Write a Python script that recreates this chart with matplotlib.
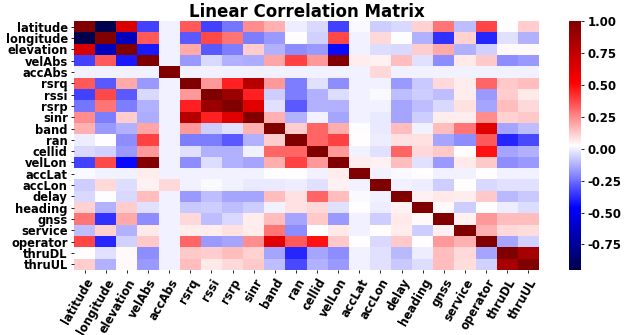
import matplotlib
matplotlib.use("Agg")
import matplotlib.pyplot as plt
import numpy as np

labels = ["latitude", "longitude", "elevation", "velAbs", "accAbs", "rsrq",
          "rssi", "rsrp", "sinr", "band", "ran", "cellid", "velLon", "accLat",
          "accLon", "delay", "heading", "gnss", "service", "operator",
          "thruDL", "thruUL"]

# correlation matrix rows
corr = [
    [1.00, -0.95, 0.66, -0.34, 0.00, 0.34, -0.34, -0.24, 0.24, 0.17, -0.01, -0.05, -0.34, 0.01, -0.07, -0.05, 0.11, 0.29, -0.10, 0.38, 0.03, 0.12],
    [-0.95, 1.00, -0.64, 0.34, 0.00, -0.29, 0.37, 0.29, -0.22, -0.17, 0.025, -0.06, 0.37, 0.00, 0.10, 0.02, -0.12, -0.37, 0.11, -0.39, -0.03, -0.12],
    [0.66, -0.64, 1.00, -0.41, 0.00, 0.19, -0.29, -0.22, 0.12, -0.12, -0.19, -0.17, -0.44, 0.00, -0.04, -0.05, 0.12, 0.19, -0.12, -0.06, 0.04, 0.04],
    [-0.34, 0.34, -0.41, 1.00, 0.00, -0.17, -0.05, -0.12, -0.13, 0.20, 0.39, 0.22, 0.98, 0.06, 0.05, 0.15, -0.03, -0.19, 0.07, 0.13, -0.19, -0.17],
    [0.00, 0.00, 0.00, 0.00, 1.00, 0.00, 0.00, 0.00, 0.00, 0.00, 0.00, 0.00, 0.00, 0.00, 0.10, 0.00, 0.00, 0.00, 0.00, 0.00, 0.00, 0.00],
    [0.34, -0.29, 0.19, -0.17, 0.00, 1.00, 0.22, 0.45, 0.79, 0.22, -0.22, -0.03, -0.19, 0.00, 0.00, -0.17, -0.08, 0.10, 0.06, 0.32, 0.13, 0.15],
    [-0.34, 0.37, -0.29, -0.05, 0.00, 0.22, 1.00, 0.90, 0.45, -0.07, -0.22, -0.12, -0.04, 0.00, 0.01, -0.10, -0.07, -0.10, 0.06, -0.17, 0.12, 0.07],
    [-0.24, 0.29, -0.22, -0.12, 0.00, 0.45, 0.90, 1.00, 0.63, -0.03, -0.29, -0.12, -0.12, 0.00, 0.00, -0.15, -0.10, -0.05, 0.08, -0.15, 0.15, 0.10],
    [0.24, -0.22, 0.12, -0.13, 0.00, 0.79, 0.45, 0.63, 1.00, 0.17, -0.12, 0.00, -0.15, 0.00, -0.02, -0.15, -0.07, 0.06, 0.06, 0.24, 0.11, 0.13],
    [0.17, -0.17, -0.12, 0.20, 0.00, 0.22, -0.07, -0.03, 0.17, 1.00, 0.12, 0.32, 0.18, 0.02, -0.02, 0.15, 0.00, 0.15, 0.29, 0.63, -0.15, -0.10],
    [-0.01, 0.025, -0.19, 0.39, 0.00, -0.22, -0.22, -0.29, -0.12, 0.12, 1.00, 0.32, 0.39, 0.025, -0.01, 0.08, 0.08, -0.15, -0.19, 0.34, -0.39, -0.32],
    [-0.05, -0.06, -0.17, 0.22, 0.00, -0.03, -0.12, -0.12, 0.00, 0.32, 0.32, 1.00, 0.22, 0.00, -0.03, 0.32, 0.10, 0.13, 0.025, 0.48, -0.15, -0.12],
    [-0.34, 0.37, -0.44, 0.98, 0.00, -0.19, -0.04, -0.12, -0.15, 0.18, 0.39, 0.22, 1.00, 0.06, 0.05, 0.15, -0.03, -0.17, 0.07, 0.13, -0.19, -0.17],
    [0.01, 0.00, 0.00, 0.06, 0.00, 0.00, 0.00, 0.00, 0.00, 0.02, 0.025, 0.00, 0.06, 1.00, 0.00, 0.01, 0.03, 0.00, 0.00, 0.025, 0.00, 0.00],
    [-0.07, 0.10, -0.04, 0.05, 0.10, 0.00, 0.01, 0.00, -0.02, -0.02, -0.01, -0.03, 0.05, 0.00, 1.00, 0.00, -0.01, -0.07, 0.025, -0.05, -0.03, -0.03],
    [-0.05, 0.02, -0.05, 0.15, 0.00, -0.17, -0.10, -0.15, -0.15, 0.15, 0.08, 0.32, 0.15, 0.01, 0.00, 1.00, 0.05, 0.07, 0.06, 0.13, -0.11, -0.08],
    [0.11, -0.12, 0.12, -0.03, 0.00, -0.08, -0.07, -0.10, -0.07, 0.00, 0.08, 0.10, -0.03, 0.03, -0.01, 0.05, 1.00, 0.04, -0.07, 0.025, -0.01, -0.04],
    [0.29, -0.37, 0.19, -0.19, 0.00, 0.10, -0.10, -0.05, 0.06, 0.15, -0.15, 0.13, -0.17, 0.00, -0.07, 0.07, 0.04, 1.00, 0.05, 0.22, 0.15, 0.15],
    [-0.10, 0.11, -0.12, 0.07, 0.00, 0.06, 0.06, 0.08, 0.06, 0.29, -0.19, 0.025, 0.07, 0.00, 0.025, 0.06, -0.07, 0.05, 1.00, 0.17, 0.10, 0.09],
    [0.38, -0.39, -0.06, 0.13, 0.00, 0.32, -0.17, -0.15, 0.24, 0.63, 0.34, 0.48, 0.13, 0.025, -0.05, 0.13, 0.025, 0.22, 0.17, 1.00, -0.15, -0.06],
    [0.03, -0.03, 0.04, -0.19, 0.00, 0.13, 0.12, 0.15, 0.11, -0.15, -0.39, -0.15, -0.19, 0.00, -0.03, -0.11, -0.01, 0.15, 0.10, -0.15, 1.00, 0.85],
    [0.12, -0.12, 0.04, -0.17, 0.00, 0.15, 0.07, 0.10, 0.13, -0.10, -0.32, -0.12, -0.17, 0.00, -0.03, -0.08, -0.04, 0.15, 0.09, -0.06, 0.85, 1.00],
]

cbar_ticks = [-0.75, -0.5, -0.25, 0.0, 0.25, 0.5, 0.75, 1.0]

data = np.array(corr)

fig = plt.figure(figsize=(6.25, 3.35), dpi=100)
W, H = 625, 335
ax = fig.add_axes([74 / W, 1 - 270 / H, 465 / W, 249 / H])
cax = fig.add_axes([569 / W, 1 - 270 / H, 12 / W, 249 / H])

mesh = ax.pcolormesh(data, cmap="seismic", vmin=data.min(), vmax=data.max())
ax.set_xlim(0, len(labels))
ax.set_ylim(len(labels), 0)
for s in ax.spines.values():
    s.set_visible(False)

ticks = np.arange(len(labels)) + 0.5
ax.set_xticks(ticks)
ax.set_yticks(ticks)
ax.set_xticklabels(labels, rotation=60, ha="right", rotation_mode="anchor",
                   fontsize=8.3, fontweight="bold")
ax.set_yticklabels(labels, fontsize=8.3, fontweight="bold")
ax.tick_params(length=2.5, width=0.6, pad=2)
ax.set_title("Linear Correlation Matrix", fontsize=12, fontweight="bold", pad=3)

cb = fig.colorbar(mesh, cax=cax, ticks=cbar_ticks, format="%.2f")
cb.outline.set_visible(False)
cb.ax.tick_params(length=2.5, width=0.6, pad=2)
for t in cb.ax.get_yticklabels():
    t.set_fontsize(8.5)
    t.set_fontweight("bold")

fig.savefig("out.png", dpi=100)
